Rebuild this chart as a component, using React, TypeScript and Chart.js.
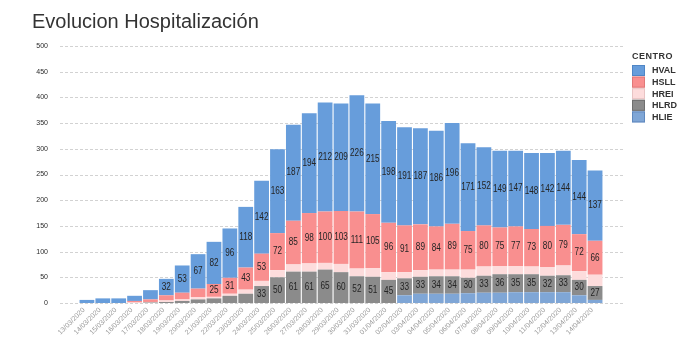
import { useEffect, useRef } from "react";
import { Chart, registerables } from "chart.js";

Chart.register(...registerables);

const TITLE = "Evolucion Hospitalización";
const LEGEND_TITLE = "CENTRO";

const dates = [
  "13/03/2020", "14/03/2020", "15/03/2020", "16/03/2020", "17/03/2020", "18/03/2020",
  "19/03/2020", "20/03/2020", "21/03/2020", "22/03/2020", "23/03/2020", "24/03/2020",
  "25/03/2020", "26/03/2020", "27/03/2020", "28/03/2020", "29/03/2020", "30/03/2020",
  "31/03/2020", "01/04/2020", "02/04/2020", "03/04/2020", "04/04/2020", "05/04/2020",
  "06/04/2020", "07/04/2020", "08/04/2020", "09/04/2020", "10/04/2020", "11/04/2020",
  "12/04/2020", "13/04/2020", "14/04/2020",
];

const HVAL = [6, 9, 9, 10, 18, 32, 53, 67, 82, 96, 118, 142, 163, 187, 194, 212, 209, 226, 215, 198, 191, 187, 186, 196, 171, 152, 149, 147, 148, 142, 144, 144, 137];
const HSLL = [0, 0, 0, 3, 5, 10, 13, 17, 25, 31, 43, 53, 72, 85, 98, 100, 103, 111, 105, 96, 91, 89, 84, 89, 75, 80, 75, 77, 73, 80, 79, 72, 66];
const HREI = [0, 0, 0, 1, 1, 3, 3, 4, 3, 4, 8, 10, 14, 14, 16, 13, 16, 15, 17, 15, 12, 13, 13, 13, 16, 18, 16, 16, 15, 17, 19, 17, 22];
const HLRD = [0, 0, 0, 0, 1, 2, 4, 7, 9, 14, 18, 33, 50, 61, 61, 65, 60, 52, 51, 45, 33, 33, 34, 34, 30, 33, 36, 35, 35, 32, 33, 30, 27];
const HLIE = [0, 0, 0, 0, 0, 0, 0, 0, 0, 0, 0, 0, 0, 0, 0, 0, 0, 0, 0, 0, 15, 18, 18, 18, 19, 20, 20, 21, 21, 21, 21, 15, 6];

const yTicks = [0, 50, 100, 150, 200, 250, 300, 350, 400, 450, 500];

const COLORS: Record<string, string> = {
  HVAL: "#679DDB",
  HSLL: "#F98F8F",
  HREI: "#FDDCDC",
  HLRD: "#8B8B8B",
  HLIE: "#7FA6D6",
};
const BORDERS: Record<string, string> = {
  HVAL: "#4F86C6",
  HSLL: "#E07878",
  HREI: "#E8C4C4",
  HLRD: "#6F6F6F",
  HLIE: "#5F88BD",
};

const LABELED = ["HVAL", "HSLL", "HLRD"];
const FONT = '"Liberation Sans", Arial, sans-serif';

const gridPlugin = {
  id: "dashedGrid",
  beforeDatasetsDraw(chart: any) {
    const { ctx, chartArea } = chart;
    const ys = chart.scales.y;
    ctx.save();
    ctx.strokeStyle = "#d2d2d2";
    ctx.lineWidth = 1;
    ctx.setLineDash([3, 2]);
    yTicks.forEach((v) => {
      const py = Math.round(ys.getPixelForValue(v)) + 0.5;
      ctx.beginPath();
      ctx.moveTo(chartArea.left - 19, py);
      ctx.lineTo(chartArea.right + 20, py);
      ctx.stroke();
    });
    ctx.restore();
  },
};

const labelPlugin = {
  id: "segLabels",
  afterDatasetsDraw(chart: any) {
    const { ctx } = chart;
    chart.data.datasets.forEach((ds: any, di: number) => {
      if (!LABELED.includes(ds.label)) return;
      const meta = chart.getDatasetMeta(di);
      meta.data.forEach((el: any, i: number) => {
        const v = ds.data[i];
        if (v < 20) return;
        const { x, y, base } = el.getProps(["x", "y", "base"], true);
        const cy = (y + base) / 2;
        ctx.save();
        ctx.translate(x, cy);
        ctx.scale(0.82, 1);
        ctx.font = `10px ${FONT}`;
        ctx.textAlign = "center";
        ctx.textBaseline = "middle";
        ctx.fillStyle = "#252525";
        ctx.fillText(String(v), 0, 0);
        ctx.restore();
      });
    });
  },
};

const decorPlugin = {
  id: "decor",
  afterDraw(chart: any) {
    const { ctx } = chart;
    ctx.save();
    // title
    ctx.font = `20px ${FONT}`;
    ctx.fillStyle = "#333333";
    ctx.textAlign = "left";
    ctx.textBaseline = "alphabetic";
    ctx.fillText(TITLE, 32, 28);
    // legend
    ctx.font = `bold 9px ${FONT}`;
    ctx.fillStyle = "#333333";
    (ctx as any).letterSpacing = "0.5px";
    ctx.fillText(LEGEND_TITLE, 632, 59);
    (ctx as any).letterSpacing = "0px";
    const items = [...chart.data.datasets].reverse();
    items.forEach((ds: any, i: number) => {
      const top = 65 + i * 11.6;
      ctx.fillStyle = COLORS[ds.label];
      ctx.fillRect(632, top, 13, 11);
      ctx.strokeStyle = BORDERS[ds.label];
      ctx.lineWidth = 1;
      ctx.strokeRect(632.5, top + 0.5, 12, 10);
      ctx.fillStyle = "#333333";
      ctx.font = `bold 9px ${FONT}`;
      ctx.textBaseline = "middle";
      ctx.fillText(ds.label, 652, top + 6);
      ctx.textBaseline = "alphabetic";
    });
    ctx.restore();
  },
};

export default function App() {
  const ref = useRef<HTMLCanvasElement | null>(null);

  useEffect(() => {
    document.body.style.margin = "0";
    const canvas = ref.current;
    if (!canvas) return;
    const series: [string, number[]][] = [
      ["HLIE", HLIE],
      ["HLRD", HLRD],
      ["HREI", HREI],
      ["HSLL", HSLL],
      ["HVAL", HVAL],
    ];
    const chart = new Chart(canvas, {
      type: "bar",
      data: {
        labels: dates,
        datasets: series.map(([name, data]) => ({
          label: name,
          data,
          backgroundColor: COLORS[name],
          borderWidth: 0,
          barPercentage: 0.93,
          categoryPercentage: 1,
        })),
      },
      options: {
        responsive: false,
        animation: false,
        devicePixelRatio: 1,
        layout: { padding: { top: 46, right: 87, bottom: 0, left: 0 } },
        plugins: {
          legend: { display: false },
          title: { display: false },
          tooltip: { enabled: false },
        },
        scales: {
          x: {
            stacked: true,
            offset: true,
            grid: { display: false, drawTicks: false },
            border: { display: false },
            ticks: {
              autoSkip: false,
              minRotation: 45,
              maxRotation: 45,
              padding: 3,
              labelOffset: -3,
              color: "#9a9a9a",
              font: { size: 7, family: FONT },
            },
            afterFit: (s: any) => {
              s.height = 48;
            },
          },
          y: {
            stacked: true,
            min: 0,
            max: 500,
            grid: { display: false, drawTicks: false },
            border: { display: false },
            ticks: {
              stepSize: 50,
              padding: 31,
              color: "#2a2a2a",
              font: { size: 7, family: FONT },
            },
            afterFit: (s: any) => {
              s.width = 79;
            },
          },
        },
      },
      plugins: [gridPlugin, labelPlugin, decorPlugin],
    });
    return () => chart.destroy();
  }, []);

  return (
    <div style={{ width: 690, height: 351, background: "#fff" }}>
      <canvas ref={ref} width={690} height={351} style={{ display: "block" }} />
    </div>
  );
}
